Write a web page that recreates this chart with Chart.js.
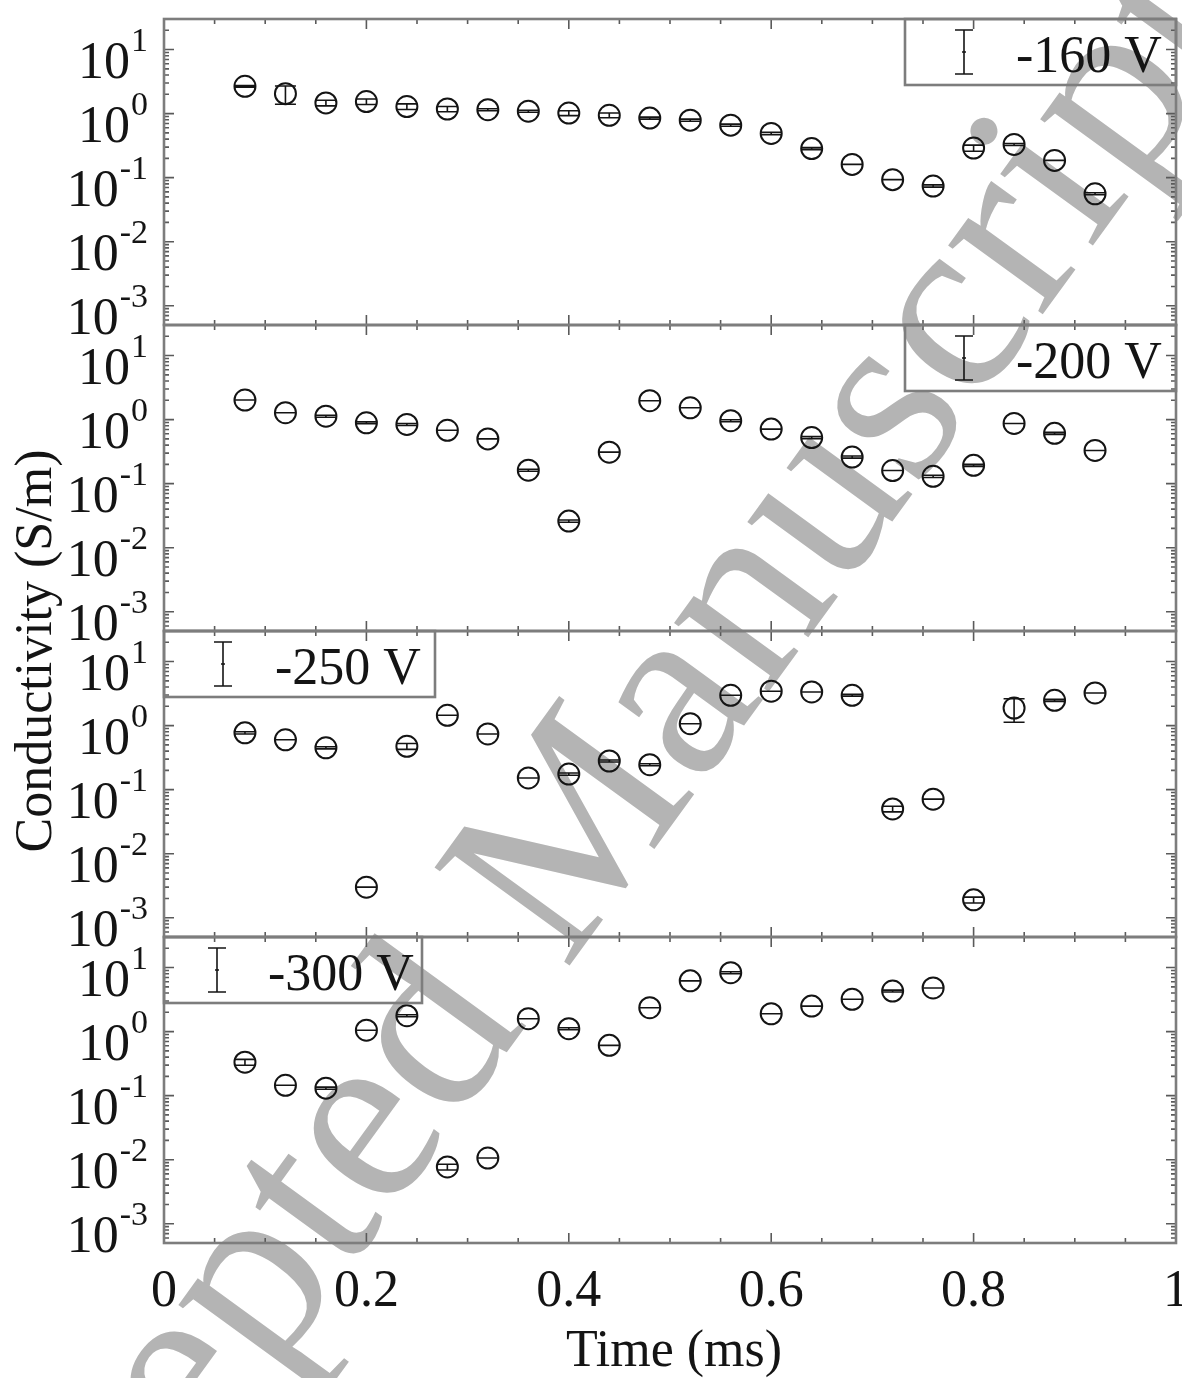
<!DOCTYPE html>
<html>
<head>
<meta charset="utf-8">
<script src="https://cdn.jsdelivr.net/npm/chart.js@4.4.1/dist/chart.umd.min.js"></script>
<style>
  html, body { margin: 0; padding: 0; background: #fff; }
  #wrap { width: 1182px; height: 1378px; }
</style>
</head>
<body>
<div id="wrap"><canvas id="chart_cond" width="1182" height="1378"></canvas></div>
<script>
// sample times (ms)
const timeMs = [0.08, 0.12, 0.16, 0.20, 0.24, 0.28, 0.32, 0.36, 0.40, 0.44, 0.48,
                0.52, 0.56, 0.60, 0.64, 0.68, 0.72, 0.76, 0.80, 0.84, 0.88, 0.92];

// conductivity (S/m) and error (S/m) per bias voltage
const cond160 = [2.67, 2.05, 1.47, 1.54, 1.29, 1.18, 1.15, 1.09, 1.02, 0.94, 0.85,
                 0.79, 0.66, 0.49, 0.284, 0.161, 0.093, 0.074, 0.29, 0.33, 0.186, 0.056];
const err160 = [0.08, 0.65, 0.15, 0.15, 0.13, 0.11, 0.04, 0.04, 0.09, 0.08, 0.03,
                0.03, 0.025, 0.02, 0.01, 0, 0, 0.003, 0.032, 0.012, 0, 0.002];

const cond200 = [2.02, 1.28, 1.13, 0.89, 0.84, 0.68, 0.50, 0.162, 0.026, 0.31, 1.97,
                 1.53, 0.96, 0.71, 0.525, 0.26, 0.16, 0.13, 0.193, 0.87, 0.61, 0.33];
const err200 = [0, 0, 0.04, 0.03, 0.03, 0, 0, 0.006, 0.001, 0, 0,
                0, 0.035, 0, 0.02, 0.01, 0, 0.005, 0.007, 0, 0.022, 0];

const cond250 = [0.77, 0.60, 0.45, 0.0030, 0.475, 1.45, 0.74, 0.152, 0.175, 0.28, 0.245,
                 1.07, 2.97, 3.44, 3.35, 2.97, 0.050, 0.071, 0.0019, 1.88, 2.48, 3.23];
const err250 = [0.03, 0, 0.017, 0, 0.05, 0, 0, 0, 0.007, 0.01, 0.009,
                0, 0, 0, 0, 0.1, 0.005, 0, 0.0002, 0.75, 0.09, 0];

const cond300 = [0.333, 0.145, 0.131, 1.05, 1.77, 0.0077, 0.0106, 1.59, 1.11, 0.61, 2.36,
                 6.2, 8.3, 1.9, 2.5, 3.2, 4.3, 4.8];
const err300 = [0.035, 0, 0.005, 0, 0.06, 0.0008, 0, 0, 0.04, 0, 0,
                0, 0.3, 0, 0, 0, 0.15, 0];

const biasLabels = ['-160 V', '-200 V', '-250 V', '-300 V'];
const xTickValues = [0, 0.2, 0.4, 0.6, 0.8, 1];
const xTickLabels = ['0', '0.2', '0.4', '0.6', '0.8', '1'];
const yDecades = [-3, -2, -1, 0, 1];

const SERIF = '"Liberation Serif", "Times New Roman", serif';
const FRAME = '#7d7d7d';
const INK = '#141414';

// legend box placement for each panel
const legendBoxes = [
  { side: 'right', w: 271, sym: 59, txt: 111 },
  { side: 'right', w: 271, sym: 59, txt: 111 },
  { side: 'left', w: 271, sym: 59, txt: 111 },
  { side: 'left', w: 258, sym: 53, txt: 104 },
];

const panels = [
  { id: 'y160', cond: cond160, err: err160 },
  { id: 'y200', cond: cond200, err: err200 },
  { id: 'y250', cond: cond250, err: err250 },
  { id: 'y300', cond: cond300, err: err300 },
];

const yMin = 5e-4;
const yMax = 30;

// grey watermark behind everything
const watermark = {
  id: 'watermark',
  beforeDraw(chart) {
    const ctx = chart.ctx;
    ctx.save();
    ctx.fillStyle = '#fff';
    ctx.fillRect(0, 0, chart.width, chart.height);
    ctx.translate(605, 917);
    ctx.rotate(-54 * Math.PI / 180);
    ctx.font = '255px ' + SERIF;
    ctx.fillStyle = 'rgb(180,180,180)';
    ctx.textAlign = 'center';
    ctx.textBaseline = 'alphabetic';
    ctx.fillText('Accepted Manuscript', 0, 0);
    ctx.restore();
  }
};

const errorBars = {
  id: 'errorBars',
  afterDatasetsDraw(chart) {
    const ctx = chart.ctx;
    const xs = chart.scales.x;
    const cap = 10.5;
    ctx.save();
    ctx.strokeStyle = INK;
    ctx.lineWidth = 1.6;
    panels.forEach(p => {
      const ys = chart.scales[p.id];
      p.cond.forEach((v, i) => {
        const e = p.err[i];
        const px = xs.getPixelForValue(timeMs[i]);
        const yTop = ys.getPixelForValue(v + e);
        const yBot = ys.getPixelForValue(Math.max(v - e, ys.min));
        ctx.beginPath();
        ctx.moveTo(px, yTop); ctx.lineTo(px, yBot);
        ctx.moveTo(px - cap, yTop); ctx.lineTo(px + cap, yTop);
        ctx.moveTo(px - cap, yBot); ctx.lineTo(px + cap, yBot);
        ctx.stroke();
      });
    });
    ctx.restore();
  }
};

function drawPower(ctx, exp, xRight, y) {
  const sup = String(exp);
  ctx.font = '34px ' + SERIF;
  const ws = ctx.measureText(sup).width;
  ctx.fillText(sup, xRight - ws, y + 1);
  ctx.font = '52px ' + SERIF;
  const wb = ctx.measureText('10').width;
  ctx.fillText('10', xRight - ws - wb - 1, y + 28);
}

const frames = {
  id: 'frames',
  afterDraw(chart) {
    const ctx = chart.ctx;
    const area = chart.chartArea;
    const xs = chart.scales.x;
    ctx.save();

    panels.forEach((p, k) => {
      const ys = chart.scales[p.id];
      const top = ys.top, bottom = ys.bottom;

      // inward ticks
      ctx.strokeStyle = '#5a5a5a';
      ctx.lineWidth = 1.6;
      ctx.beginPath();
      for (let d = -4; d <= 1; d++) {
        for (let m = 1; m <= 9; m++) {
          const v = m * Math.pow(10, d);
          if (v < yMin || v > yMax) continue;
          const py = ys.getPixelForValue(v);
          const len = m === 1 ? 10 : 5;
          ctx.moveTo(area.left, py); ctx.lineTo(area.left + len, py);
          ctx.moveTo(area.right, py); ctx.lineTo(area.right - len, py);
        }
      }
      for (let i = 0; i <= 20; i++) {
        const px = xs.getPixelForValue(i * 0.05);
        const len = i % 4 === 0 ? 10 : 5;
        ctx.moveTo(px, top); ctx.lineTo(px, top + len);
        ctx.moveTo(px, bottom); ctx.lineTo(px, bottom - len);
      }
      ctx.stroke();

      // panel frame
      ctx.strokeStyle = FRAME;
      ctx.lineWidth = 2.6;
      ctx.strokeRect(area.left, top, area.right - area.left, bottom - top);

      // y tick labels
      ctx.fillStyle = INK;
      ctx.textAlign = 'left';
      ctx.textBaseline = 'alphabetic';
      yDecades.forEach(e => {
        drawPower(ctx, e, area.left - 16, ys.getPixelForValue(Math.pow(10, e)));
      });

      // legend box
      const lb = legendBoxes[k];
      const bx = lb.side === 'right' ? area.right - lb.w : area.left;
      const bh = 66;
      ctx.strokeStyle = FRAME;
      ctx.lineWidth = 2.6;
      ctx.strokeRect(bx, top, lb.w, bh);
      const sx = bx + lb.sym;
      ctx.strokeStyle = INK;
      ctx.lineWidth = 1.6;
      ctx.beginPath();
      ctx.moveTo(sx, top + 11); ctx.lineTo(sx, top + 55);
      ctx.moveTo(sx - 9, top + 11); ctx.lineTo(sx + 9, top + 11);
      ctx.moveTo(sx - 9, top + 55); ctx.lineTo(sx + 9, top + 55);
      ctx.moveTo(sx - 2, top + 33); ctx.lineTo(sx + 2, top + 33);
      ctx.stroke();
      ctx.font = '52px ' + SERIF;
      ctx.fillStyle = INK;
      ctx.textAlign = 'left';
      ctx.fillText(biasLabels[k], bx + lb.txt, top + 53);
    });

    // x tick labels
    ctx.font = '52px ' + SERIF;
    ctx.fillStyle = INK;
    ctx.textAlign = 'center';
    ctx.textBaseline = 'alphabetic';
    xTickValues.forEach((v, i) => {
      ctx.fillText(xTickLabels[i], xs.getPixelForValue(v), area.bottom + 63);
    });

    // axis titles
    ctx.fillText('Time (ms)', (area.left + area.right) / 2 + 4, area.bottom + 123);
    ctx.save();
    ctx.translate(51, 651);
    ctx.rotate(-Math.PI / 2);
    ctx.fillText('Conductivity (S/m)', 0, 0);
    ctx.restore();

    ctx.restore();
  }
};

const datasets = panels.map(p => ({
  label: p.id,
  yAxisID: p.id,
  data: p.cond.map((v, i) => ({ x: timeMs[i], y: v })),
  showLine: false,
  pointStyle: 'circle',
  pointRadius: 10.5,
  pointBorderWidth: 2,
  pointBorderColor: INK,
  pointBackgroundColor: 'rgba(0,0,0,0)',
}));

function panelAxis(weight) {
  return {
    type: 'logarithmic',
    min: yMin,
    max: yMax,
    bounds: 'data',
    display: false,
    position: 'left',
    stack: 'panels',
    stackWeight: 1,
    weight: weight,
  };
}

new Chart(document.getElementById('chart_cond').getContext('2d'), {
  type: 'scatter',
  data: { datasets },
  options: {
    responsive: false,
    devicePixelRatio: 1,
    animation: false,
    events: [],
    layout: { autoPadding: false, padding: { left: 164, right: 6, top: 19, bottom: 135 } },
    scales: {
      x: { type: 'linear', min: 0, max: 1, display: false, position: 'bottom' },
      y160: panelAxis(4),
      y200: panelAxis(3),
      y250: panelAxis(2),
      y300: panelAxis(1),
    },
    plugins: {
      legend: { display: false },
      tooltip: { enabled: false },
    },
  },
  plugins: [watermark, errorBars, frames],
});
</script>
</body>
</html>
